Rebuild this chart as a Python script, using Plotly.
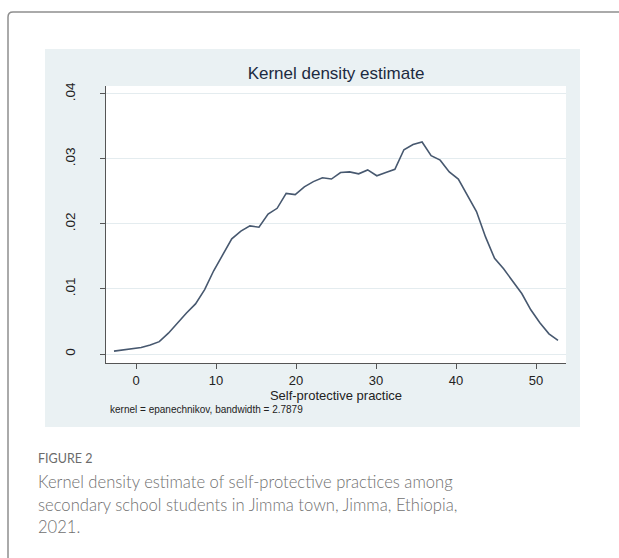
import plotly.graph_objects as go

# Kernel density estimate of self-protective practice scores (Epanechnikov kernel, 50 points)
score = [-2.75, -1.62, -0.49, 0.65, 1.78, 2.91, 4.05, 5.18, 6.31, 7.44,
         8.58, 9.71, 10.84, 11.97, 13.11, 14.24, 15.37, 16.51, 17.64, 18.77,
         19.90, 21.04, 22.17, 23.30, 24.43, 25.57, 26.70, 27.83, 28.96, 30.10,
         31.23, 32.36, 33.49, 34.63, 35.76, 36.89, 38.02, 39.16, 40.29, 41.42,
         42.56, 43.69, 44.82, 45.95, 47.09, 48.22, 49.35, 50.48, 51.62, 52.75]
density = [0.00045, 0.0006, 0.0008, 0.0010, 0.0014, 0.0019, 0.0032, 0.0048, 0.0063, 0.0077,
           0.0099, 0.0128, 0.0152, 0.0177, 0.0189, 0.0197, 0.0195, 0.0215, 0.0224, 0.0247,
           0.0245, 0.0257, 0.0265, 0.0271, 0.0269, 0.0279, 0.0280, 0.0277, 0.0283, 0.0274,
           0.0279, 0.0284, 0.0314, 0.0322, 0.0326, 0.0305, 0.0298, 0.0280, 0.0269, 0.0245,
           0.0219, 0.0180, 0.0147, 0.0131, 0.0112, 0.0093, 0.0068, 0.0048, 0.0031, 0.0021]

x_ticks = [0, 10, 20, 30, 40, 50]
y_ticks = [0, 0.01, 0.02, 0.03, 0.04]
y_tick_labels = ["0", ".01", ".02", ".03", ".04"]

title_text = "Kernel density estimate"
x_title = "Self-protective practice"
note_text = "kernel = epanechnikov, bandwidth = 2.7879"
fig_label = "FIGURE 2"
caption_lines = [
    "Kernel density estimate of self-protective practices among",
    "secondary school students in Jimma town, Jimma, Ethiopia,",
    "2021.",
]

W, H = 619, 558
L, R, T, B = 106, 566, 86, 363  # plot area in pixels


def px(x):
    return (x - L) / (R - L)


def py(y):
    return (B - y) / (B - T)


ARIAL = "Liberation Sans, Arial, sans-serif"
CAPTION_FONT = "Lato, Open Sans, sans-serif"

fig = go.Figure()
fig.add_trace(go.Scatter(
    x=score, y=density, mode="lines",
    line=dict(color="#47586f", width=1.6),
    hoverinfo="skip", showlegend=False,
))

shapes = []
# Outer figure frame with a rounded top-left corner
r = 5
fx0, fy0, fx1, fy1 = 8, 12, 625, 590
shapes.append(dict(
    type="path", xref="paper", yref="paper", layer="below",
    path=(f"M {px(fx0)},{py(fy1)} L {px(fx0)},{py(fy0 + r)} "
          f"Q {px(fx0)},{py(fy0)} {px(fx0 + r)},{py(fy0)} "
          f"L {px(fx1)},{py(fy0)}"),
    line=dict(color="#8e8e8e", width=1.5),
))
# Graph region background
shapes.append(dict(
    type="rect", xref="paper", yref="paper", layer="below",
    x0=px(45), x1=px(580), y0=py(427), y1=py(49),
    fillcolor="#eaf1f3", line=dict(width=0),
))
# White plot region
shapes.append(dict(
    type="rect", xref="paper", yref="paper", layer="below",
    x0=0, x1=1, y0=0, y1=1,
    fillcolor="#ffffff", line=dict(width=0),
))

annotations = [
    dict(text=note_text, xref="paper", yref="paper", x=px(108), y=py(409),
         xanchor="left", yanchor="middle", showarrow=False,
         font=dict(family=ARIAL, size=10, color="#222222")),
    dict(text=fig_label, xref="paper", yref="paper", x=px(36), y=py(458),
         xanchor="left", yanchor="middle", showarrow=False,
         font=dict(family=CAPTION_FONT, size=12.5, color="#6b6b6b")),
]
for i, line in enumerate(caption_lines):
    annotations.append(dict(
        text=line, xref="paper", yref="paper", x=px(36), y=py(482 + 22.5 * i),
        xanchor="left", yanchor="middle", showarrow=False,
        font=dict(family=CAPTION_FONT, size=16.6, color="#707070", weight=300),
    ))

fig.update_layout(
    width=W, height=H,
    margin=dict(l=L, r=W - R, t=T, b=H - B, autoexpand=False),
    paper_bgcolor="#ffffff",
    plot_bgcolor="#ffffff",
    title=dict(text=title_text, x=0.5, xref="paper", xanchor="center",
               y=1 - 73 / H, yref="container", yanchor="middle",
               font=dict(family=ARIAL, size=17, color="#1c2a40")),
    shapes=shapes,
    annotations=annotations,
    xaxis=dict(
        range=[-3.75, 53.75], tickvals=x_ticks, ticks="outside", ticklen=5,
        tickwidth=1, tickcolor="#555555", showline=True, linecolor="#555555",
        linewidth=1, showgrid=False, zeroline=False,
        tickfont=dict(family=ARIAL, size=13, color="#222222"),
        title=dict(text=x_title, standoff=2,
                   font=dict(family=ARIAL, size=13, color="#222222")),
    ),
    yaxis=dict(
        range=[-0.00138, 0.0412], tickvals=y_ticks, ticktext=y_tick_labels,
        ticks="outside", ticklen=5, tickwidth=1, tickcolor="#555555",
        showline=True, linecolor="#555555", linewidth=1,
        showgrid=True, gridcolor="#e4ecef", gridwidth=1, zeroline=False,
        tickangle=-90, ticklabelstandoff=20,
        tickfont=dict(family=ARIAL, size=13.5, color="#222222"),
    ),
)

fig.write_html("out.html")
